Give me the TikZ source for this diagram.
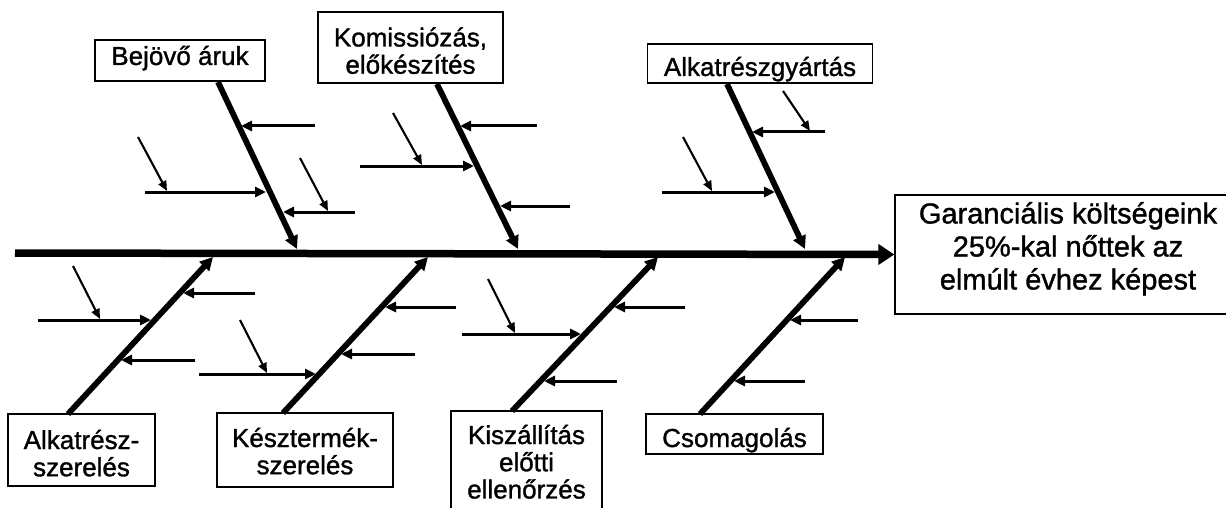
\documentclass[tikz,border=0pt]{standalone}
\usepackage{fontspec}
\setmainfont{Liberation Sans}[FakeBold=1.2]
\usetikzlibrary{arrows.meta,calc}

% multi-line label whose reference point is the first baseline
\newcommand\boxlines[1]{\begin{tabular}[t]{@{}c@{}}#1\end{tabular}}

\begin{document}
\begin{tikzpicture}[x=1pt,y=-1pt,
  catbox/.style={draw=black,line width=1.3pt,inner sep=0pt,fill=white,
    font=\fontsize{26}{27}\selectfont},
  effbox/.style={draw=black,line width=1.3pt,inner sep=0pt,fill=white,
    font=\fontsize{29}{33}\selectfont},
  spine/.style={line width=7.5pt,-{Triangle[length=16pt,width=20pt]}},
  bone/.style={line width=5.8pt,-{Triangle[length=13pt,width=13pt]}},
  twig/.style={line width=3pt,-{Triangle[length=11pt,width=10pt]}},
  sprig/.style={line width=2.1pt,-{Triangle[length=10pt,width=8.5pt]}},
]
\useasboundingbox (0,0) rectangle (1226,508);

% effect box (runs off the right edge)
\node[effbox,minimum width=346pt,minimum height=119pt,text height=0pt,text depth=62pt]
  (eff) at (1068,254.5)
  {\boxlines{Garanciális költségeink\\25\%-kal nőttek az\\elmúlt évhez képest}};

% category boxes, upper row
\node[catbox,minimum width=170pt,minimum height=41pt,text height=9pt,text depth=0pt]
  (bej) at (180,60.5) {Bejövő áruk};
\node[catbox,minimum width=185pt,minimum height=71pt,text height=0pt,text depth=2pt]
  (kom) at (410.5,47.5) {\boxlines{Komissiózás,\\előkészítés}};
\node[catbox,minimum width=225pt,minimum height=39pt,text height=25pt,text depth=0pt]
  (gyar) at (760,63.5) {Alkatrészgyártás};

% category boxes, lower row
\node[catbox,minimum width=147pt,minimum height=72pt,text height=0pt,text depth=2pt]
  (asz) at (81.5,450) {\boxlines{Alkatrész-\\szerelés}};
\node[catbox,minimum width=176pt,minimum height=74pt,text height=0pt,text depth=6pt]
  (ksz) at (305,450) {\boxlines{Késztermék-\\szerelés}};
\node[catbox,minimum width=151pt,minimum height=109pt,text height=0pt,text depth=43pt]
  (kis) at (526.5,465.5) {\boxlines{Kiszállítás\\előtti\\ellenőrzés}};
\node[catbox,minimum width=177pt,minimum height=40pt,text height=26pt,text depth=0pt]
  (cso) at (734.5,434) {Csomagolás};

% spine
\coordinate (tail) at (15,253);
\draw[spine] (tail) -- (eff.west);

% main bones: from the boxes to the spine
\coordinate (b1s) at (218,82);  \coordinate (b1e) at (297,249);
\coordinate (b2s) at (437,84);  \coordinate (b2e) at (518,249);
\coordinate (b3s) at (727,84);  \coordinate (b3e) at (805,249);
\coordinate (b4s) at (68,414);  \coordinate (b4e) at (213,257);
\coordinate (b5s) at (283,413); \coordinate (b5e) at (428,257);
\coordinate (b6s) at (512,411); \coordinate (b6e) at (658,257);
\coordinate (b7s) at (700,414); \coordinate (b7e) at (845,257);
\foreach \i in {1,...,7} \draw[bone] (b\i s) -- (b\i e);

% Bejövő áruk
\coordinate (c11) at (315,126); \coordinate (t11) at (241,126);
\coordinate (c12) at (145,192); \coordinate (t12) at (266,192);
\coordinate (c13) at (355,212); \coordinate (t13) at (283,212);
\coordinate (d11) at (138,137); \coordinate (e11) at (167,191);
\coordinate (d12) at (300,158); \coordinate (e12) at (328,211);
% Komissiózás, előkészítés
\coordinate (c21) at (537,126); \coordinate (t21) at (460,126);
\coordinate (c22) at (360,166); \coordinate (t22) at (474,166);
\coordinate (c23) at (570,206); \coordinate (t23) at (500,206);
\coordinate (d21) at (393,113); \coordinate (e21) at (422,165);
% Alkatrészgyártás
\coordinate (c31) at (825,132); \coordinate (t31) at (752,132);
\coordinate (c32) at (662,192); \coordinate (t32) at (775,192);
\coordinate (d31) at (783,91);  \coordinate (e31) at (810,131);
\coordinate (d32) at (683,137); \coordinate (e32) at (712,191);
% Alkatrész-szerelés
\coordinate (c41) at (255,293); \coordinate (t41) at (183,293);
\coordinate (c42) at (38,320);  \coordinate (t42) at (151,320);
\coordinate (c43) at (195,360); \coordinate (t43) at (121,360);
\coordinate (d41) at (73,266);  \coordinate (e41) at (100,319);
% Késztermék-szerelés
\coordinate (c51) at (456,307); \coordinate (t51) at (385,307);
\coordinate (c52) at (415,354); \coordinate (t52) at (341,354);
\coordinate (c53) at (199,374); \coordinate (t53) at (316,374);
\coordinate (d51) at (240,320); \coordinate (e51) at (267,373);
% Kiszállítás előtti ellenőrzés
\coordinate (c61) at (685,307); \coordinate (t61) at (614,307);
\coordinate (c62) at (462,334); \coordinate (t62) at (581,334);
\coordinate (c63) at (617,381); \coordinate (t63) at (544,381);
\coordinate (d61) at (488,279); \coordinate (e61) at (515,333);
% Csomagolás
\coordinate (c71) at (858,320); \coordinate (t71) at (790,320);
\coordinate (c72) at (805,381); \coordinate (t72) at (734,381);

\foreach \p in {11,12,13,21,22,23,31,32,41,42,43,51,52,53,61,62,63,71,72}
  \draw[twig] (c\p) -- (t\p);
\foreach \p in {11,12,21,31,32,41,51,61}
  \draw[sprig] (d\p) -- (e\p);
\end{tikzpicture}
\end{document}
